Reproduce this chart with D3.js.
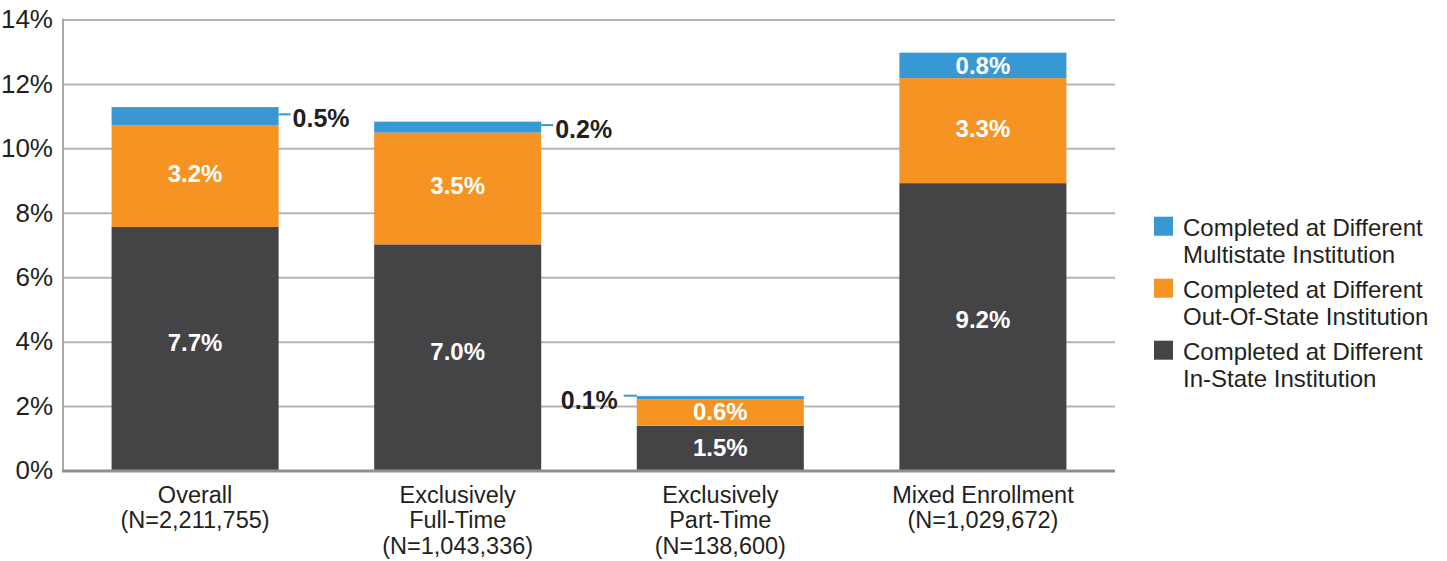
<!DOCTYPE html>
<html>
<head>
<meta charset="utf-8">
<script src="https://cdn.jsdelivr.net/npm/d3@7"></script>
<style>
  body { margin: 0; background: #fff; }
  svg { display: block; }
</style>
</head>
<body>
<div id="chart"></div>
<script>
'use strict';

// data
const categories = ["Overall", "Exclusively Full-Time", "Exclusively Part-Time", "Mixed Enrollment"];
const categoryLines = [
  ["Overall", "(N=2,211,755)"],
  ["Exclusively", "Full-Time", "(N=1,043,336)"],
  ["Exclusively", "Part-Time", "(N=138,600)"],
  ["Mixed Enrollment", "(N=1,029,672)"]
];
const inState = [7.56, 7.02, 1.39, 8.92];
const outOfState = [3.15, 3.47, 0.82, 3.26];
const multistate = [0.57, 0.34, 0.10, 0.79];
const inStateLabels = ["7.7%", "7.0%", "1.5%", "9.2%"];
const outOfStateLabels = ["3.2%", "3.5%", "0.6%", "3.3%"];
const multistateLabels = ["0.5%", "0.2%", "0.1%", "0.8%"];
// where the small multistate label goes: right of bar, left of bar, or inside
const multistateLabelSide = ["right", "right", "left", "inside"];
const yTicks = [0, 2, 4, 6, 8, 10, 12, 14];

const seriesNames = ["inState", "outOfState", "multistate"];
const colors = {
  inState: "#444446",
  outOfState: "#f59422",
  multistate: "#3798d4"
};
const legendItems = [
  { key: "multistate", lines: ["Completed at Different", "Multistate Institution"] },
  { key: "outOfState", lines: ["Completed at Different", "Out-Of-State Institution"] },
  { key: "inState", lines: ["Completed at Different", "In-State Institution"] }
];

const narrow = "'Liberation Sans Narrow', 'Arial Narrow', sans-serif";
const regular = "'Liberation Sans', Arial, sans-serif";

window.onload = function() {
  const svg = d3.select('#chart')
    .append('svg')
    .attr('width', 1447)
    .attr('height', 561);

  const plot = { left: 63, right: 1115, top: 19.5, bottom: 470.5 };

  const xScale = d3.scaleBand()
    .domain(categories)
    .range([plot.left, plot.right])
    .paddingInner(0.364)
    .paddingOuter(0.185);

  const yScale = d3.scaleLinear()
    .domain([0, 14])
    .range([plot.bottom, plot.top]);

  // gridlines + tick labels
  const yAxis = d3.axisLeft(yScale)
    .tickValues(yTicks)
    .tickSize(-(plot.right - plot.left))
    .tickPadding(10)
    .tickFormat(d => d + "%");

  const gy = svg.append('g')
    .attr('transform', `translate(${plot.left},0)`)
    .call(yAxis);
  gy.select('.domain').remove();
  gy.selectAll('.tick line')
    .attr('stroke', '#b5b5b5')
    .attr('stroke-width', 2);
  gy.selectAll('.tick text')
    .attr('fill', '#231f20')
    .style('font-family', narrow)
    .style('font-size', '26px');

  // y axis line
  svg.append('line')
    .attr('x1', plot.left).attr('x2', plot.left)
    .attr('y1', plot.top - 1).attr('y2', plot.bottom)
    .attr('stroke', '#aaaaaa')
    .attr('stroke-width', 2);

  // stack the data
  const rows = categories.map((c, i) => ({
    category: c,
    inState: inState[i],
    outOfState: outOfState[i],
    multistate: multistate[i]
  }));
  const stacked = d3.stack().keys(seriesNames)(rows);

  svg.append('g')
    .selectAll('g')
    .data(stacked)
    .enter()
    .append('g')
      .attr('fill', d => colors[d.key])
    .selectAll('rect')
    .data(d => d)
    .enter()
    .append('rect')
      .attr('x', d => xScale(d.data.category))
      .attr('width', xScale.bandwidth())
      .attr('y', d => yScale(d[1]))
      .attr('height', d => yScale(d[0]) - yScale(d[1]));

  // x axis line
  svg.append('line')
    .attr('x1', plot.left - 1).attr('x2', plot.right)
    .attr('y1', plot.bottom + 0.5).attr('y2', plot.bottom + 0.5)
    .attr('stroke', '#8f8f8f')
    .attr('stroke-width', 3);

  // labels inside the bars, nudged a little above the segment middle
  const inLabels = [
    { layer: stacked[0], labels: inStateLabels },
    { layer: stacked[1], labels: outOfStateLabels }
  ];
  inLabels.forEach(item => {
    svg.append('g')
      .selectAll('text')
      .data(item.layer)
      .enter()
      .append('text')
        .attr('x', d => xScale(d.data.category) + xScale.bandwidth() / 2)
        .attr('y', d => {
          const h = yScale(d[0]) - yScale(d[1]);
          return (yScale(d[0]) + yScale(d[1])) / 2 - 0.025 * h;
        })
        .attr('dy', '0.36em')
        .attr('text-anchor', 'middle')
        .attr('fill', '#ffffff')
        .style('font-family', regular)
        .style('font-weight', 'bold')
        .style('font-size', '24px')
        .text((d, i) => item.labels[i]);
  });

  // multistate labels, with leader lines where the segment is too thin
  const top = stacked[2];
  top.forEach((d, i) => {
    const x0 = xScale(d.data.category);
    const x1 = x0 + xScale.bandwidth();
    const yMid = (yScale(d[0]) + yScale(d[1])) / 2;
    const side = multistateLabelSide[i];
    if (side === 'inside') {
      svg.append('text')
        .attr('x', (x0 + x1) / 2)
        .attr('y', yMid)
        .attr('dy', '0.36em')
        .attr('text-anchor', 'middle')
        .attr('fill', '#ffffff')
        .style('font-family', regular)
        .style('font-weight', 'bold')
        .style('font-size', '24px')
        .text(multistateLabels[i]);
      return;
    }
    const lineY = yMid - 2;
    const lx1 = side === 'right' ? x1 : x0;
    const lx2 = side === 'right' ? x1 + 12 : x0 - 13;
    svg.append('line')
      .attr('x1', lx1).attr('x2', lx2)
      .attr('y1', lineY).attr('y2', lineY)
      .attr('stroke', colors.multistate)
      .attr('stroke-width', 2);
    svg.append('text')
      .attr('x', side === 'right' ? lx2 + 2 : lx2 - 6)
      .attr('y', lineY + 4)
      .attr('dy', '0.36em')
      .attr('text-anchor', side === 'right' ? 'start' : 'end')
      .attr('fill', '#231f20')
      .style('font-family', regular)
      .style('font-weight', 'bold')
      .style('font-size', '25px')
      .text(multistateLabels[i]);
  });

  // category labels
  categories.forEach((c, i) => {
    const t = svg.append('text')
      .attr('x', xScale(c) + xScale.bandwidth() / 2)
      .attr('y', 502.5)
      .attr('text-anchor', 'middle')
      .attr('fill', '#231f20')
      .style('font-family', regular)
      .style('font-size', '23.5px');
    categoryLines[i].forEach((line, j) => {
      t.append('tspan')
        .attr('x', xScale(c) + xScale.bandwidth() / 2)
        .attr('y', 502.5 + j * 25.5)
        .text(line);
    });
  });

  // legend
  const legend = svg.append('g').attr('transform', 'translate(1154,0)');
  legendItems.forEach((item, i) => {
    const base = 235.7 + i * 62;
    legend.append('rect')
      .attr('x', 0)
      .attr('y', base - 19)
      .attr('width', 19)
      .attr('height', 19)
      .attr('fill', colors[item.key]);
    const t = legend.append('text')
      .attr('fill', '#231f20')
      .style('font-family', regular)
      .style('font-size', '24px');
    item.lines.forEach((line, j) => {
      t.append('tspan')
        .attr('x', 29)
        .attr('y', base + j * 27)
        .text(line);
    });
  });
};
</script>
</body>
</html>
